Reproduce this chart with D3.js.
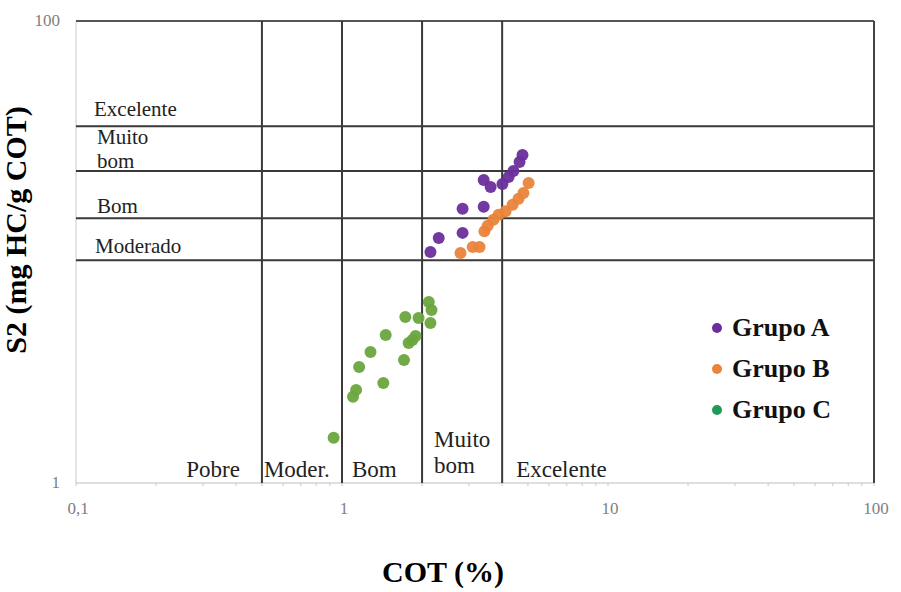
<!DOCTYPE html>
<html>
<head>
<meta charset="utf-8">
<script src="https://cdn.jsdelivr.net/npm/d3@7"></script>
<style>
  body { margin: 0; background: #fff; }
  text { font-family: "Liberation Serif", "Times New Roman", serif; }
</style>
</head>
<body>
<script>
// Data
var grupoA_cot = [2.15, 2.31, 2.84, 2.84, 3.41, 3.41, 3.62, 4.01, 4.23, 4.41, 4.65, 4.77];
var grupoA_s2  = [10.0, 11.5, 12.1, 15.4, 15.7, 20.5, 19.1, 19.7, 21.1, 22.4, 24.5, 26.3];

var grupoB_cot = [2.79, 3.10, 3.29, 3.43, 3.53, 3.71, 3.88, 4.12, 4.38, 4.61, 4.81, 5.03];
var grupoB_s2  = [9.9, 10.5, 10.5, 12.3, 13.0, 13.8, 14.5, 15.0, 16.0, 17.0, 18.0, 19.9];

var grupoC_cot = [0.93, 1.10, 1.13, 1.16, 1.28, 1.43, 1.46, 1.71, 1.73, 1.78, 1.84, 1.89, 1.94, 2.12, 2.17, 2.15];
var grupoC_s2  = [1.57, 2.36, 2.53, 3.18, 3.69, 2.71, 4.37, 3.41, 5.23, 4.04, 4.16, 4.33, 5.18, 6.08, 5.61, 4.93];

var groupNames = ["Grupo A", "Grupo B", "Grupo C"];

// classification limits
var cotLimits = [0.5, 1, 2, 4];
var s2Limits = [9.2, 14, 22.4, 35];

var xTicks = [0.1, 1, 10, 100];
var xTickLabels = ["0,1", "1", "10", "100"];
var yTicks = [1, 100];
var yTickLabels = ["1", "100"];

var width = 901, height = 592;
var margin = {top: 21, right: 27, bottom: 109, left: 76};

var svg = d3.select("body").append("svg")
    .attr("width", width)
    .attr("height", height);

var x = d3.scaleLog()
    .domain([0.1, 100])
    .range([margin.left, width - margin.right]);

var y = d3.scaleLog()
    .domain([1, 100])
    .range([height - margin.bottom, margin.top]);

var x0 = x.range()[0], x1 = x.range()[1];
var y0 = y.range()[0], y1 = y.range()[1];

// left axis (light) and bottom axis (light, small ticks)
svg.append("line")
    .attr("x1", x0).attr("x2", x0).attr("y1", y1).attr("y2", y0)
    .attr("stroke", "#c8c8c8").attr("stroke-width", 1);

var minor = [];
for (var d = 0.1; d < 100; d *= 10) {
    for (var k = 1; k < 10; k++) minor.push(d * k);
}
minor.push(100);

svg.append("line")
    .attr("x1", x0).attr("x2", x1).attr("y1", y0).attr("y2", y0)
    .attr("stroke", "#bdbdbd").attr("stroke-width", 1);

svg.selectAll(".xminor")
    .data(minor)
    .enter().append("line")
    .attr("x1", function(d) { return x(d); })
    .attr("x2", function(d) { return x(d); })
    .attr("y1", y0).attr("y2", y0 + 3)
    .attr("stroke", "#c8c8c8");

// top and right border
svg.append("line")
    .attr("x1", x0).attr("x2", x1).attr("y1", y1).attr("y2", y1)
    .attr("stroke", "#555").attr("stroke-width", 2);
svg.append("line")
    .attr("x1", x1).attr("x2", x1).attr("y1", y1).attr("y2", y0)
    .attr("stroke", "#444").attr("stroke-width", 2);

// classification grid
svg.selectAll(".vlim")
    .data(cotLimits)
    .enter().append("line")
    .attr("x1", function(d) { return x(d); })
    .attr("x2", function(d) { return x(d); })
    .attr("y1", y1).attr("y2", y0)
    .attr("stroke", "#3a3a3a").attr("stroke-width", 2);

svg.selectAll(".hlim")
    .data(s2Limits)
    .enter().append("line")
    .attr("x1", x0).attr("x2", x1)
    .attr("y1", function(d) { return y(d); })
    .attr("y2", function(d) { return y(d); })
    .attr("stroke", "#3a3a3a").attr("stroke-width", 2);

// tick labels
svg.selectAll(".xtick")
    .data(xTicks)
    .enter().append("text")
    .attr("x", function(d) { return x(d) + 2; })
    .attr("y", y0 + 31)
    .attr("text-anchor", "middle")
    .attr("font-size", 17)
    .attr("fill", "#808080")
    .text(function(d, i) { return xTickLabels[i]; });

svg.selectAll(".ytick")
    .data(yTicks)
    .enter().append("text")
    .attr("x", x0 - 16)
    .attr("y", function(d) { return y(d) + 5; })
    .attr("text-anchor", "end")
    .attr("font-size", 17)
    .attr("fill", "#808080")
    .text(function(d, i) { return yTickLabels[i]; });

// zone labels on the S2 axis
var yl = svg.append("g").attr("font-size", 21).attr("fill", "#222");
yl.append("text").attr("x", x0 + 18).attr("y", y(s2Limits[3]) - 10).text("Excelente");
yl.append("text").attr("x", x0 + 21).attr("y", y(s2Limits[3]) + 18).text("Muito");
yl.append("text").attr("x", x0 + 21).attr("y", y(s2Limits[2]) - 3).text("bom");
yl.append("text").attr("x", x0 + 21).attr("y", y(s2Limits[1]) - 5).text("Bom");
yl.append("text").attr("x", x0 + 19).attr("y", y(s2Limits[0]) - 7).text("Moderado");

// zone labels on the COT axis
var xl = svg.append("g").attr("font-size", 23).attr("fill", "#222");
xl.append("text").attr("x", x(cotLimits[0]) - 22).attr("y", y0 - 6)
    .attr("text-anchor", "end").text("Pobre");
xl.append("text").attr("x", x(cotLimits[0]) + 2).attr("y", y0 - 6).text("Moder.");
xl.append("text").attr("x", x(cotLimits[1]) + 10).attr("y", y0 - 6).text("Bom");
xl.append("text").attr("x", x(cotLimits[2]) + 12).attr("y", y0 - 36).text("Muito");
xl.append("text").attr("x", x(cotLimits[2]) + 12).attr("y", y0 - 10).text("bom");
xl.append("text").attr("x", x(cotLimits[3]) + 14).attr("y", y0 - 6).text("Excelente");

// points
function toPts(cot, s2) {
    return cot.map(function(c, i) { return {cot: c, s2: s2[i]}; });
}
var groups = [
    {pts: toPts(grupoC_cot, grupoC_s2), color: "#6aa53e"},
    {pts: toPts(grupoB_cot, grupoB_s2), color: "#e9843a"},
    {pts: toPts(grupoA_cot, grupoA_s2), color: "#6a2f9c"}
];

groups.forEach(function(g) {
    svg.append("g").selectAll("circle")
        .data(g.pts)
        .enter().append("circle")
        .attr("cx", function(d) { return x(d.cot); })
        .attr("cy", function(d) { return y(d.s2); })
        .attr("r", 6)
        .attr("fill", g.color)
        .attr("fill-opacity", 0.95);
});

// legend
var legendColors = ["#6a2f9c", "#e9843a", "#1f9a58"];
var legend = svg.append("g").attr("transform", "translate(717,328)");
groupNames.forEach(function(name, i) {
    legend.append("circle")
        .attr("cx", 0).attr("cy", i * 41)
        .attr("r", 5)
        .attr("fill", legendColors[i]);
    legend.append("text")
        .attr("x", 15).attr("y", i * 41 + 8)
        .attr("font-size", 26)
        .attr("font-weight", "bold")
        .attr("fill", "#111")
        .text(name);
});

// axis titles
svg.append("text")
    .attr("x", 443).attr("y", 582)
    .attr("text-anchor", "middle")
    .attr("font-size", 30)
    .attr("font-weight", "bold")
    .text("COT (%)");

svg.append("text")
    .attr("transform", "translate(26,230) rotate(-90)")
    .attr("text-anchor", "middle")
    .attr("font-size", 30)
    .attr("font-weight", "bold")
    .text("S2 (mg HC/g COT)");
</script>
</body>
</html>
